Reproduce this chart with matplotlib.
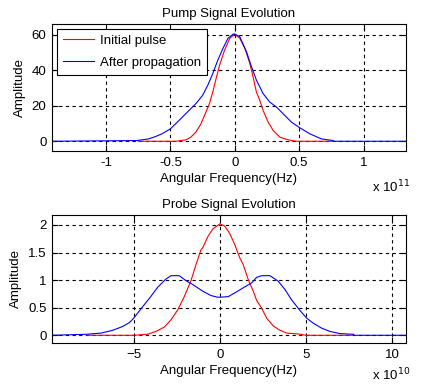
import numpy as np
import matplotlib
matplotlib.use("Agg")
import matplotlib.pyplot as plt

plt.rcParams["font.family"] = ["Liberation Sans", "DejaVu Sans"]
plt.rcParams["font.size"] = 9.5

# ── Pump (x in units of 1e11 Hz) ──
pump_init_x = [-0.75, -0.46, -0.38, -0.342, -0.303, -0.263, -0.224, -0.197, -0.171,
               -0.145, -0.118, -0.079, -0.039, 0.0, 0.039, 0.078, 0.117, 0.142,
               0.168, 0.194, 0.22, 0.259, 0.298, 0.35, 0.415, 0.479, 0.76]
pump_init_y = [0, 0, 0.8, 2.3, 5.1, 9.8, 16.5, 21.2, 27.8,
               35.4, 43.0, 51.5, 58.1, 60.5, 58.1, 52.4, 43.9, 36.3,
               27.8, 23.1, 17.4, 10.8, 6.1, 2.3, 0.8, 0, 0]
pump_prop_x = [-1.42, -0.763, -0.671, -0.618, -0.566, -0.5, -0.434, -0.368, -0.303,
               -0.25, -0.21, -0.171, -0.132, -0.092, -0.053, -0.013, 0.0, 0.039,
               0.091, 0.13, 0.168, 0.22, 0.272, 0.324, 0.376, 0.44, 0.505, 0.583,
               0.674, 0.764, 0.77, 1.33]
pump_prop_y = [0, 0.4, 1.3, 2.6, 4.2, 7.0, 11.7, 16.5, 21.2,
               25.9, 31.6, 38.2, 45.8, 52.4, 58.1, 60.5, 60.5, 59.0,
               50.5, 42.0, 34.5, 26.9, 22.1, 19.3, 15.5, 10.8, 7.6, 4.2,
               1.3, 0.4, 0, 0]

# ── Probe (x in units of 1e10 Hz) ──
probe_init_x = [-7.7, -4.96, -4.19, -3.71, -3.22, -2.84, -2.45, -2.07, -1.68, -1.39,
                -1.10, -0.99, -0.70, -0.41, 0.0, 0.27, 0.56, 0.85, 1.14, 1.35,
                1.64, 1.93, 2.13, 2.42, 2.71, 3.09, 3.48, 3.87, 4.64, 5.0, 7.7]
probe_init_y = [0, 0, 0.02, 0.07, 0.15, 0.28, 0.46, 0.70, 0.99, 1.28,
                1.55, 1.59, 1.79, 1.93, 2.02, 1.98, 1.85, 1.65, 1.41, 1.28,
                1.01, 0.80, 0.63, 0.49, 0.31, 0.17, 0.09, 0.04, 0.02, 0, 0]
probe_prop_x = [-9.74, -7.76, -6.89, -6.22, -5.64, -5.25, -5.0, -4.58, -4.09, -3.61,
                -3.13, -2.84, -2.36, -1.97, -1.58, -1.0, -0.52, -0.14, 0.0, 0.48,
                0.87, 1.35, 1.84, 2.13, 2.42, 2.90, 3.38, 3.77, 4.16, 4.64, 5.03,
                5.41, 5.89, 6.38, 6.96, 7.73, 7.8, 10.79]
probe_prop_y = [0, 0.018, 0.04, 0.09, 0.16, 0.23, 0.31, 0.48, 0.67, 0.87,
                1.02, 1.08, 1.08, 0.99, 0.92, 0.80, 0.72, 0.69, 0.69, 0.70,
                0.77, 0.86, 0.95, 1.05, 1.08, 1.08, 0.98, 0.83, 0.64, 0.45, 0.31,
                0.22, 0.13, 0.07, 0.03, 0.018, 0, 0]

W, H = 432, 385
fig = plt.figure(figsize=(W / 100, H / 100), dpi=100)
ax1 = fig.add_axes([52 / W, 1 - 151 / H, 354 / W, 127 / H])
ax2 = fig.add_axes([52 / W, 1 - 343 / H, 354 / W, 128 / H])


def style(ax):
    ax.grid(True, color="black", ls=(0, (3, 3)), lw=0.8)
    ax.tick_params(direction="in", length=4, width=0.8, top=True, right=True,
                   labelsize=9.5, pad=4)
    for s in ax.spines.values():
        s.set_linewidth(0.8)
    ax.set_ylabel("Amplitude")
    ax.set_xlabel("Angular Frequency(Hz)", labelpad=3)


ax1.plot(pump_init_x, pump_init_y, color="red", lw=0.8, label="Initial pulse")
ax1.plot(pump_prop_x, pump_prop_y, color="blue", lw=0.8, label="After propagation")
ax1.set_xlim(-1.42, 1.33)
ax1.set_ylim(-5.5, 66.2)
ax1.set_xticks([-1, -0.5, 0, 0.5, 1])
ax1.set_xticklabels(["-1", "-0.5", "0", "0.5", "1"])
ax1.set_yticks([0, 20, 40, 60])
ax1.set_title("Pump Signal Evolution", fontsize=9.5, pad=5)
style(ax1)
leg = ax1.legend(loc="upper left", fancybox=False, framealpha=1, edgecolor="black",
                 handlelength=2.4, borderaxespad=0.35, borderpad=0.45, labelspacing=0.75,
                 handletextpad=0.45, fontsize=9.5)
leg.get_frame().set_linewidth(0.8)

ax2.plot(probe_init_x, probe_init_y, color="red", lw=0.8)
ax2.plot(probe_prop_x, probe_prop_y, color="blue", lw=0.8)
ax2.set_xlim(-9.74, 10.79)
ax2.set_ylim(-0.14, 2.18)
ax2.set_xticks([-5, 0, 5, 10])
ax2.set_yticks([0, 0.5, 1, 1.5, 2])
ax2.set_yticklabels(["0", "0.5", "1", "1.5", "2"])
ax2.set_title("Probe Signal Evolution", fontsize=9.5, pad=5)
style(ax2)

fig.text(372 / W, 1 - 187 / H, r"x 10$^{11}$", fontsize=9.5, va="center")
fig.text(372 / W, 1 - 375 / H, r"x 10$^{10}$", fontsize=9.5, va="center")

fig.savefig("out.png", dpi=100, facecolor="white")
